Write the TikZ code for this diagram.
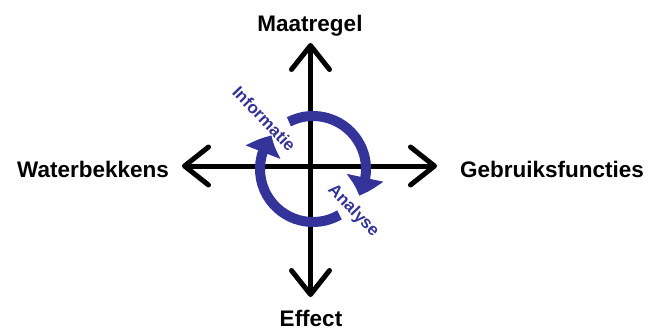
\documentclass[tikz,border=0pt]{standalone}
\usepackage{fontspec}
\setmainfont{Liberation Sans}
\usetikzlibrary{arrows.meta,bending}
\definecolor{cycblue}{RGB}{51,51,153}
\tikzset{
  axis/.style={line width=5pt, line cap=round,
    {Straight Barb[length=24pt,width=38pt,line cap=round,line join=round]}-{Straight Barb[length=24pt,width=38pt,line cap=round,line join=round]}},
  cyc/.style={line width=10pt, draw=cycblue,
    -{Triangle[length=19pt,width=36pt,bend]}},
  biglabel/.style={font=\fontsize{22.5}{25}\selectfont\bfseries, anchor=base, inner sep=0pt},
  cyclabel/.style={font=\fontsize{17}{19}\selectfont\bfseries, text=cycblue, anchor=base, inner sep=0pt, rotate=-46}
}
\begin{document}
\begin{tikzpicture}[x=1pt,y=1pt]
\useasboundingbox (0,0) rectangle (651,-329);
\coordinate (C) at (313,-169);
\coordinate (N) at (310.5,-43);
\coordinate (S) at (310.5,-297);
\coordinate (W) at (182,-166);
\coordinate (E) at (437,-166);
\draw[axis] (W) -- (E);
\draw[axis] (S) -- (N);
\draw[cyc] ([shift={(117:53)}]C) arc[start angle=117, end angle=-30, radius=53];
\draw[cyc] ([shift={(-60:53)}]C) arc[start angle=-60, end angle=-219, radius=53];
\node[biglabel] (maat) at (310,-32) {Maatregel};
\node[biglabel] (eff) at (311,-326) {Effect};
\node[biglabel] (wat) at (93,-177) {Waterbekkens};
\node[biglabel] (geb) at (552,-177) {Gebruiksfuncties};
\node[cyclabel] (info) at (260,-123) {Informatie};
\node[cyclabel] (ana) at (350,-214) {Analyse};
\end{tikzpicture}
\end{document}
